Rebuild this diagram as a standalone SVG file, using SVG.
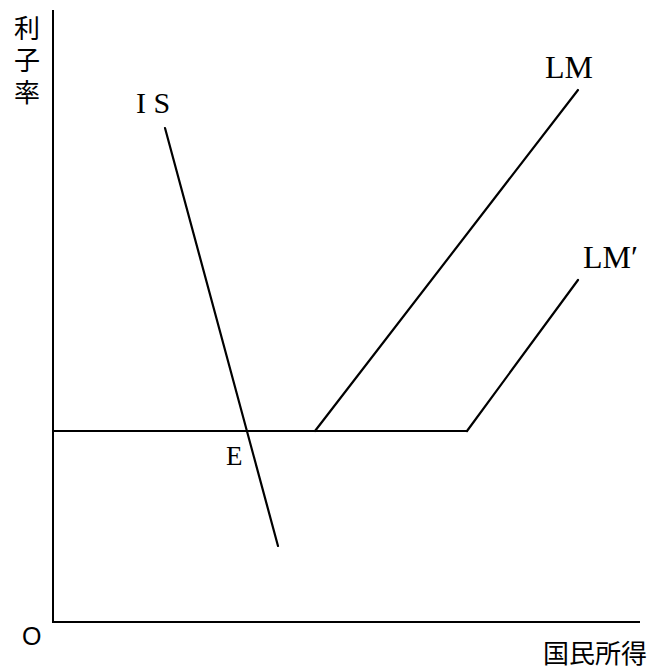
<svg xmlns="http://www.w3.org/2000/svg" width="653" height="671" viewBox="0 0 653 671">
<style>
.ln{stroke:#000;stroke-width:2.2;fill:none;stroke-linecap:round}
.ax{stroke:#000;stroke-width:2;fill:none}
.t{font-family:"Liberation Serif","Noto Serif",serif;fill:#000}
.j{font-family:"Noto Sans CJK JP","Noto Sans CJK SC",sans-serif;fill:#000}
</style>
<rect width="653" height="671" fill="#fff"/>
<g id="axes">
<path class="ax" d="M53,10 V622 H640"/>
</g>
<g id="connectors">
<line id="flat" class="ln" x1="53" y1="431" x2="467" y2="431"/>
<line id="IS" class="ln" x1="165" y1="128" x2="278" y2="546"/>
<line id="LM" class="ln" x1="315" y1="431" x2="578" y2="90"/>
<line id="LM2" class="ln" x1="467" y1="431" x2="578" y2="280"/>
</g>
<g id="labels">
<text class="j" x="27" y="15" font-size="26" writing-mode="vertical-rl" letter-spacing="6">利子率</text>
<text class="t" x="136" y="113" font-size="30">I S</text>
<text class="t" x="545" y="78" font-size="32">LM</text>
<text class="t" x="583" y="268" font-size="32">LM′</text>
<text class="t" x="226" y="465" font-size="27">E</text>
<text x="22" y="645" font-size="25" font-family="Liberation Sans,sans-serif">O</text>
<text class="j" x="543" y="663" font-size="26">国民所得</text>
</g>
</svg>
